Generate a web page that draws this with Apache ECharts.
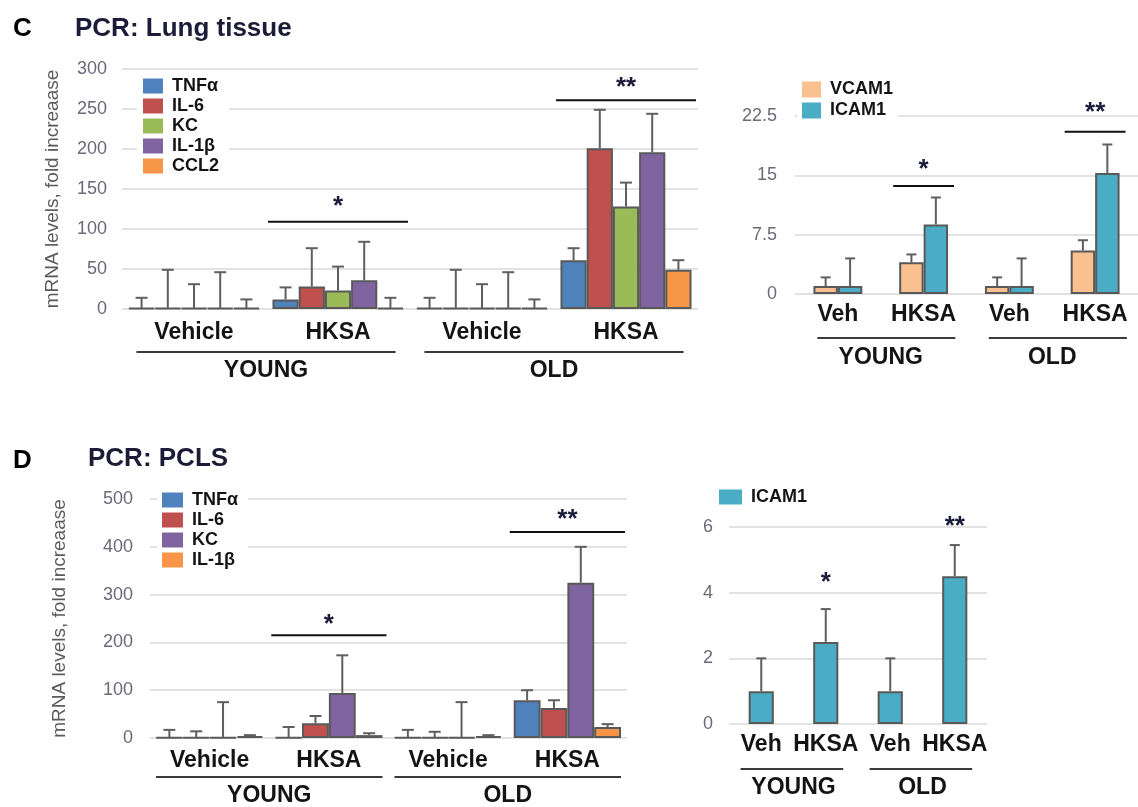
<!DOCTYPE html>
<html><head><meta charset="utf-8">
<script src="https://cdn.jsdelivr.net/npm/echarts@6/dist/echarts.min.js"></script>
<style>html,body{margin:0;padding:0;background:#fff}#c{width:1138px;height:807px}</style>
</head><body><div id="c"></div>
<script>
// ---------- DATA ----------
const ageGroups = ['YOUNG', 'OLD'];
const longCats = ['Vehicle', 'HKSA', 'Vehicle', 'HKSA'];
const shortCats = ['Veh', 'HKSA', 'Veh', 'HKSA'];

// C, left: lung tissue cytokines (fold increase), mean and error
const lungGenes = ['TNFα', 'IL-6', 'KC', 'IL-1β', 'CCL2'];
const lungTNFa = [1, 12, 1, 61];     const lungTNFaErr = [13, 15, 13, 15];
const lungIL6 = [1, 28, 1, 201];     const lungIL6Err = [48, 48, 48, 48];
const lungKC = [1, 23, 1, 128];      const lungKCErr = [30, 30, 30, 30];
const lungIL1b = [1, 36, 1, 196];    const lungIL1bErr = [45, 48, 45, 48];
const lungCCL2 = [1, 1, 1, 49];      const lungCCL2Err = [11, 13, 11, 12];
const lungSigLines = [[1, 109], [3, 261]];
const lungSigStars = [[1, 135], [3, 284]];
const lungSigText = ['*', '**'];

// C, right: lung tissue adhesion molecules
const adhGenes = ['VCAM1', 'ICAM1'];
const lungVCAM1 = [1, 4.0, 1, 5.5];  const lungVCAM1Err = [1.1, 1.0, 1.1, 1.3];
const lungICAM1 = [1, 8.8, 1, 15.3]; const lungICAM1Err = [3.5, 3.4, 3.5, 3.6];
const adhSigLines = [[1, 13.65], [3, 20.5]];
const adhSigStars = [[1, 16.5], [3, 23.6]];
const adhSigText = ['*', '**'];

// D, left: PCLS cytokines
const pclsGenes = ['TNFα', 'IL-6', 'KC', 'IL-1β'];
const pclsTNFa = [1, 1, 1, 79];      const pclsTNFaErr = [16, 22, 16, 21];
const pclsIL6 = [1, 31, 1, 63];      const pclsIL6Err = [13, 15, 12, 16];
const pclsKC = [1, 94, 1, 325];      const pclsKCErr = [74, 79, 74, 75];
const pclsIL1b = [4, 6, 4, 23];      const pclsIL1bErr = [2, 4, 2, 6];
const pclsSigLines = [[1, 215], [3, 431]];
const pclsSigStars = [[1, 250], [3, 470]];
const pclsSigText = ['*', '**'];

// D, right: PCLS ICAM1
const pclsIcamGenes = ['ICAM1'];
const pclsICAM1 = [1, 2.5, 1, 4.5];  const pclsICAM1Err = [1.0, 1.0, 1.0, 0.95];
const pclsIcamSigStars = [[1, 4.47], [3, 6.2]];
const pclsIcamSigText = ['*', '**'];

// ---------- STYLE / LAYOUT ----------
const FONT = '"Liberation Sans", Arial, Helvetica, sans-serif';
const C_BLUE = '#4F81BD', C_RED = '#C0504D', C_GREEN = '#9BBB59', C_PURPLE = '#8064A2',
      C_ORANGE = '#F79646', C_PEACH = '#FAC090', C_TEAL = '#4BACC6';
const BORDER = '#595959';

const panels = [
  { grid: {left: 122, top: 69, width: 576, height: 240}, cats: longCats, yMax: 300, yInt: 50, gap: 0.09,
    names: lungGenes, colors: [C_BLUE, C_RED, C_GREEN, C_PURPLE, C_ORANGE],
    vals: [lungTNFa, lungIL6, lungKC, lungIL1b, lungCCL2], errs: [lungTNFaErr, lungIL6Err, lungKCErr, lungIL1bErr, lungCCL2Err],
    xMargin: 12, grpMargin: 50, lineOff: 43, ext: [0.4, 0.4], cap: 6, yLabelMargin: 15,
    yName: 'mRNA levels, fold increaase', nameGap: 60,
    legend: {left: 137, top: 74, itemWidth: 20, itemHeight: 15, lh: 20, pad: [2, 10, 2, 6]},
    sigLines: lungSigLines, sigStars: lungSigStars, sigText: lungSigText, sigHalf: 0.486 },
  { grid: {left: 795, top: 116, width: 343, height: 178}, cats: shortCats, yMax: 22.5, yInt: 7.5, gap: 0.43,
    names: adhGenes, colors: [C_PEACH, C_TEAL],
    vals: [lungVCAM1, lungICAM1], errs: [lungVCAM1Err, lungICAM1Err],
    xMargin: 9, grpMargin: 52, lineOff: 44, ext: [0.24, 0.37], cap: 5, yLabelMargin: 18,
    yName: '', nameGap: 0,
    legend: {left: 797, top: 77, itemWidth: 19, itemHeight: 16, lh: 21, pad: [2, 5, 2, 5]},
    sigLines: adhSigLines, sigStars: adhSigStars, sigText: adhSigText, sigHalf: 0.355 },
  { grid: {left: 150, top: 499, width: 477, height: 240}, cats: longCats, yMax: 500, yInt: 100, gap: 0.10,
    names: pclsGenes, colors: [C_BLUE, C_RED, C_PURPLE, C_ORANGE],
    vals: [pclsTNFa, pclsIL6, pclsKC, pclsIL1b], errs: [pclsTNFaErr, pclsIL6Err, pclsKCErr, pclsIL1bErr],
    xMargin: 11, grpMargin: 46, lineOff: 39, ext: [0.45, 0.45], cap: 6, yLabelMargin: 17,
    yName: 'mRNA levels, fold increaase', nameGap: 81,
    legend: {left: 157, top: 487, itemWidth: 21, itemHeight: 15, lh: 20, pad: [3, 10, 3, 5]},
    sigLines: pclsSigLines, sigStars: pclsSigStars, sigText: pclsSigText, sigHalf: 0.483 },
  { grid: {left: 729, top: 527, width: 258, height: 197}, cats: shortCats, yMax: 6, yInt: 2, gap: 0.61,
    names: pclsIcamGenes, colors: [C_TEAL],
    vals: [pclsICAM1], errs: [pclsICAM1Err],
    xMargin: 9, grpMargin: 52, lineOff: 45, ext: [0.32, 0.27], cap: 5, yLabelMargin: 16,
    yName: '', nameGap: 0,
    legend: {left: 714, top: 485, itemWidth: 23, itemHeight: 15, lh: 20, pad: [2, 5, 2, 5]},
    sigLines: [], sigStars: pclsIcamSigStars, sigText: pclsIcamSigText, sigHalf: 0.4 }
];

const option = {
  animation: false,
  backgroundColor: '#fff',
  textStyle: {fontFamily: FONT},
  grid: [], xAxis: [], yAxis: [], series: [], legend: [],
  graphic: [
    {type: 'text', x: 13, y: 29, style: {text: 'C', font: 'bold 26px ' + FONT, fill: '#000', verticalAlign: 'middle'}},
    {type: 'text', x: 75, y: 29, style: {text: 'PCR: Lung tissue', font: 'bold 26px ' + FONT, fill: '#1c1c38', verticalAlign: 'middle'}},
    {type: 'text', x: 13, y: 461, style: {text: 'D', font: 'bold 26px ' + FONT, fill: '#000', verticalAlign: 'middle'}},
    {type: 'text', x: 88, y: 459, style: {text: 'PCR: PCLS', font: 'bold 26px ' + FONT, fill: '#1c1c38', verticalAlign: 'middle'}}
  ]
};

panels.forEach((p, g) => {
  option.grid.push(Object.assign({containLabel: false}, p.grid));
  const xMain = option.xAxis.length;
  option.xAxis.push({
    type: 'category', gridIndex: g, data: p.cats, position: 'bottom',
    axisLine: {show: false}, axisTick: {show: false}, splitLine: {show: false},
    axisLabel: {margin: p.xMargin, fontSize: 23, fontWeight: 'bold', color: '#141414', fontFamily: FONT, interval: 0}
  });
  option.xAxis.push({
    type: 'category', gridIndex: g, data: ageGroups, position: 'bottom',
    axisLine: {show: false}, axisTick: {show: false}, splitLine: {show: false},
    axisLabel: {margin: p.grpMargin, fontSize: 23, fontWeight: 'bold', color: '#141414', fontFamily: FONT, interval: 0}
  });
  option.yAxis.push({
    type: 'value', gridIndex: g, min: 0, max: p.yMax, interval: p.yInt,
    name: p.yName, nameLocation: 'middle', nameGap: p.nameGap,
    nameTextStyle: {fontSize: 19, color: '#5a5a5a', fontFamily: FONT},
    axisLine: {show: false}, axisTick: {show: false},
    axisLabel: {margin: p.yLabelMargin, fontSize: 18, color: '#6a6a78', fontFamily: FONT},
    splitLine: {lineStyle: {color: '#d9d9d9', width: 1.5}}
  });
  const n = p.names.length;
  p.names.forEach((name, i) => {
    option.series.push({
      type: 'bar', name: name, xAxisIndex: xMain, yAxisIndex: g, data: p.vals[i],
      barGap: '0%', barCategoryGap: (p.gap * 100) + '%',
      itemStyle: {color: p.colors[i], borderColor: BORDER, borderWidth: 2}, z: 2, silent: true
    });
  });
  // error bars
  const errRows = [];
  p.names.forEach((name, i) => {
    p.vals[i].forEach((v, c) => errRows.push([c, i, v, v + p.errs[i][c]]));
  });
  option.series.push({
    type: 'custom', xAxisIndex: xMain, yAxisIndex: g, data: errRows, clip: false, silent: true, z: 3,
    encode: {x: 0, y: 3},
    renderItem: (params, api) => {
      const c = api.value(0), si = api.value(1), m = api.value(2), up = api.value(3);
      const band = api.size([1, 0])[0];
      const groupW = band * (1 - p.gap);
      const bw = groupW / n;
      const cx = api.coord([c, 0])[0] - groupW / 2 + (si + 0.5) * bw;
      const y0 = api.coord([c, m])[1], y1 = api.coord([c, up])[1];
      const st = {stroke: '#5f5f5f', lineWidth: 2};
      return {type: 'group', children: [
        {type: 'line', shape: {x1: cx, y1: y0, x2: cx, y2: y1}, style: st},
        {type: 'line', shape: {x1: cx - p.cap, y1: y1, x2: cx + p.cap, y2: y1}, style: st}
      ]};
    }
  });
  // group underlines
  option.series.push({
    type: 'custom', xAxisIndex: xMain, yAxisIndex: g, data: [[0, 1], [2, 3]], clip: false, silent: true,
    renderItem: (params, api) => {
      const band = api.size([1, 0])[0];
      const a = api.coord([api.value(0), 0]), b = api.coord([api.value(1), 0]);
      const y = a[1] + p.lineOff;
      return {type: 'line', shape: {x1: a[0] - p.ext[0] * band, y1: y, x2: b[0] + p.ext[1] * band, y2: y},
        style: {stroke: '#3a3a3a', lineWidth: 2}};
    }
  });
  // significance lines
  if (p.sigLines.length) option.series.push({
    type: 'custom', xAxisIndex: xMain, yAxisIndex: g, data: p.sigLines, clip: false, silent: true,
    renderItem: (params, api) => {
      const band = api.size([1, 0])[0];
      const pt = api.coord([api.value(0), api.value(1)]);
      return {type: 'line', shape: {x1: pt[0] - p.sigHalf * band, y1: pt[1], x2: pt[0] + p.sigHalf * band, y2: pt[1]},
        style: {stroke: '#111', lineWidth: 2}};
    }
  });
  // significance stars
  option.series.push({
    type: 'custom', xAxisIndex: xMain, yAxisIndex: g, data: p.sigStars, clip: false, silent: true,
    renderItem: (params, api) => {
      const pt = api.coord([api.value(0), api.value(1)]);
      return {type: 'text', x: pt[0], y: pt[1] + 6,
        style: {text: p.sigText[params.dataIndex], font: 'bold 26px ' + FONT, fill: '#1b1b3a', align: 'center', verticalAlign: 'middle'}};
    }
  });
  // legend
  const L = p.legend;
  option.legend.push({
    orient: 'vertical', left: L.left, top: L.top, padding: L.pad, itemGap: 0,
    itemWidth: L.itemWidth, itemHeight: L.itemHeight, icon: 'rect', selectedMode: false,
    backgroundColor: '#fff',
    itemStyle: {borderWidth: 0},
    textStyle: {fontSize: 18, fontWeight: 'bold', color: '#141414', fontFamily: FONT, lineHeight: L.lh, padding: [0, 0, 0, 4]},
    data: p.names.map((nm, i) => ({name: nm, itemStyle: {color: p.colors[i], borderWidth: 0}}))
  });
});

const chart = echarts.init(document.getElementById('c'), null, {renderer: 'canvas'});
chart.setOption(option);
</script>
</body></html>
